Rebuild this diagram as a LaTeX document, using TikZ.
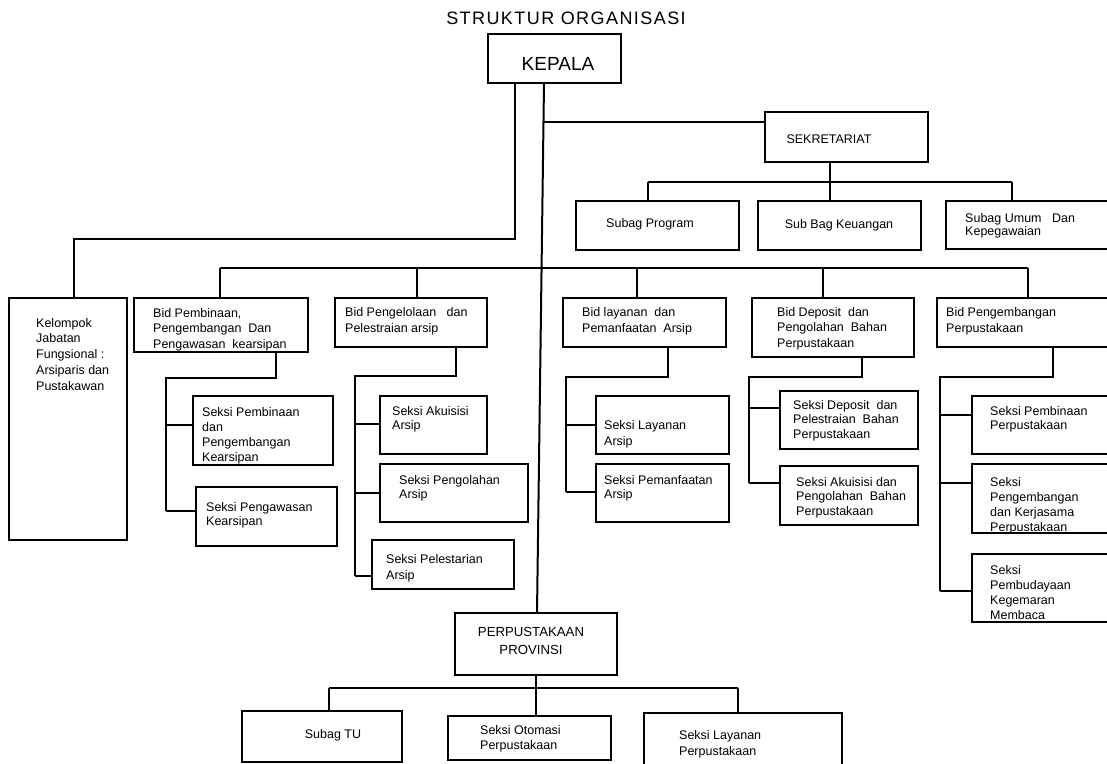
\documentclass[tikz,border=0pt]{standalone}
\usepackage{fontspec}
\setmainfont{Liberation Sans}
\begin{document}
\begin{tikzpicture}[x=1pt,y=-1pt,
 box/.style={draw, line width=2pt, rectangle, inner sep=0pt, outer sep=0pt, anchor=north west},
 txt/.style={inner sep=0pt, anchor=north west, align=left, font=\fontsize{12.5}{15.5}\selectfont},
 ctxt/.style={inner sep=0pt, anchor=center, align=center, font=\fontsize{12.5}{15.5}\selectfont},
 conn/.style={line width=2pt}]
\useasboundingbox (0,0) rectangle (1107,763);
\clip (0,0) rectangle (1107,763);

% title and head
\node[inner sep=0pt, font=\fontsize{18}{20}\selectfont\addfontfeature{LetterSpace=8}] (title) at (566,18) {STRUKTUR ORGANISASI};
\node[box, minimum width=133pt, minimum height=49pt] (kepala) at (488,34) {};
\node[inner sep=0pt, font=\fontsize{19}{21}\selectfont] (kepala-t) at (558,64) {KEPALA};

% sekretariat
\node[box, minimum width=163pt, minimum height=50pt] (sekretariat) at (765,112) {};
\node[ctxt] (sekretariat-t) at (829,139) {SEKRETARIAT};
\node[box, minimum width=163pt, minimum height=49pt] (subprog) at (576,201) {};
\node[ctxt] (subprog-t) at (650,224) {Subag Program};
\node[box, minimum width=163pt, minimum height=49pt] (keuangan) at (758,201) {};
\node[ctxt] (keuangan-t) at (839,225) {Sub Bag Keuangan};
\node[box, minimum width=170pt, minimum height=48pt] (umum) at (946,201) {};
\node[txt, font=\fontsize{12.5}{13.5}\selectfont] (umum-t) at (965,213) {Subag Umum\ \ \ Dan\\Kepegawaian};

% kelompok
\node[box, minimum width=118pt, minimum height=242pt] (kelompok) at (9,298) {};
\node[txt, font=\fontsize{12.5}{15.7}\selectfont] (kelompok-t) at (36,318) {Kelompok\\Jabatan\\Fungsional :\\Arsiparis dan\\Pustakawan};

% bidang
\node[box, minimum width=174pt, minimum height=54pt] (bid1) at (134,298) {};
\node[txt] (bid1-t) at (153,308) {Bid Pembinaan,\\Pengembangan\ \ Dan\\Pengawasan\ \ kearsipan};
\node[box, minimum width=152pt, minimum height=49pt] (bid2) at (335,298) {};
\node[txt, font=\fontsize{12.5}{16.5}\selectfont] (bid2-t) at (345,307) {Bid Pengelolaan\ \ \ dan\\Pelestraian arsip};
\node[box, minimum width=163pt, minimum height=49pt] (bid3) at (563,298) {};
\node[txt, font=\fontsize{12.5}{16.5}\selectfont] (bid3-t) at (582,307) {Bid layanan\ \ dan\\Pemanfaatan\ \ Arsip};
\node[box, minimum width=162pt, minimum height=59pt] (bid4) at (752,298) {};
\node[txt] (bid4-t) at (777,307) {Bid Deposit\ \ dan\\Pengolahan\ \ Bahan\\Perpustakaan};
\node[box, minimum width=180pt, minimum height=49pt] (bid5) at (937,298) {};
\node[txt, font=\fontsize{12.5}{16.5}\selectfont] (bid5-t) at (946,307) {Bid Pengembangan\\Perpustakaan};

% seksi of bid1
\node[box, minimum width=140pt, minimum height=69pt] (s11) at (193,396) {};
\node[txt, font=\fontsize{12.5}{15}\selectfont] (s11-t) at (202,407) {Seksi Pembinaan\\dan\\Pengembangan\\Kearsipan};
\node[box, minimum width=141pt, minimum height=59pt] (s12) at (196,487) {};
\node[txt, font=\fontsize{12.5}{14.5}\selectfont] (s12-t) at (206,502) {Seksi Pengawasan\\Kearsipan};

% seksi of bid2
\node[box, minimum width=107pt, minimum height=58pt] (s21) at (380,396) {};
\node[txt, font=\fontsize{12.5}{14.5}\selectfont] (s21-t) at (392,406) {Seksi Akuisisi\\Arsip};
\node[box, minimum width=148pt, minimum height=58pt] (s22) at (380,464) {};
\node[txt, font=\fontsize{12.5}{14}\selectfont] (s22-t) at (399,475) {Seksi Pengolahan\\Arsip};
\node[box, minimum width=142pt, minimum height=49pt] (s23) at (372,540) {};
\node[txt, font=\fontsize{12.5}{16}\selectfont] (s23-t) at (386,554) {Seksi Pelestarian\\Arsip};

% seksi of bid3
\node[box, minimum width=133pt, minimum height=58pt] (s31) at (596,396) {};
\node[txt, font=\fontsize{12.5}{16}\selectfont] (s31-t) at (604,420) {Seksi Layanan\\Arsip};
\node[box, minimum width=133pt, minimum height=58pt] (s32) at (596,464) {};
\node[txt, font=\fontsize{12.5}{14.5}\selectfont] (s32-t) at (604,475) {Seksi Pemanfaatan\\Arsip};

% seksi of bid4
\node[box, minimum width=138pt, minimum height=58pt] (s41) at (780,391) {};
\node[txt, font=\fontsize{12.5}{14.7}\selectfont] (s41-t) at (793,400) {Seksi Deposit\ \ dan\\Pelestraian\ \ Bahan\\Perpustakaan};
\node[box, minimum width=138pt, minimum height=59pt] (s42) at (780,466) {};
\node[txt, font=\fontsize{12.5}{14.7}\selectfont] (s42-t) at (796,477) {Seksi Akuisisi dan\\Pengolahan\ \ Bahan\\Perpustakaan};

% seksi of bid5
\node[box, minimum width=150pt, minimum height=58pt] (s51) at (972,396) {};
\node[txt, font=\fontsize{12.5}{14.5}\selectfont] (s51-t) at (990,406) {Seksi Pembinaan\\Perpustakaan};
\node[box, minimum width=150pt, minimum height=69pt] (s52) at (972,464) {};
\node[txt, font=\fontsize{12.5}{15}\selectfont] (s52-t) at (990,477) {Seksi\\Pengembangan\\dan Kerjasama\\Perpustakaan};
\node[box, minimum width=150pt, minimum height=68pt] (s53) at (972,554) {};
\node[txt, font=\fontsize{12.5}{15}\selectfont] (s53-t) at (990,565) {Seksi\\Pembudayaan\\Kegemaran\\Membaca};

% perpustakaan provinsi
\node[box, minimum width=162pt, minimum height=62pt] (perpus) at (455,613) {};
\node[ctxt, font=\fontsize{13.2}{18}\selectfont] (perpus-t) at (531,641) {PERPUSTAKAAN\\PROVINSI};
\node[box, minimum width=160pt, minimum height=51pt] (subtu) at (242,711) {};
\node[ctxt] (subtu-t) at (333,735) {Subag TU};
\node[box, minimum width=163pt, minimum height=44pt] (otomasi) at (448,716) {};
\node[txt, font=\fontsize{12.5}{15}\selectfont] (otomasi-t) at (480,725) {Seksi Otomasi\\Perpustakaan};
\node[box, minimum width=198pt, minimum height=52pt] (layananp) at (644,713) {};
\node[txt, font=\fontsize{12.5}{16}\selectfont] (layananp-t) at (679,730) {Seksi Layanan\\Perpustakaan};

% ---------- connectors ----------
% kepala -> kelompok
\coordinate (k1) at (515,239);
\coordinate (k2) at (74,239);
\draw[conn] (k1 |- kepala.south) -- (k1) -- (k2) -- (k2 |- kelompok.north);
% kepala -> perpustakaan provinsi (long line)
\coordinate (kv) at (544,0);
\coordinate (pv) at (537,0);
\draw[conn] (kv |- kepala.south) -- (pv |- perpus.north);
% branch to sekretariat
\coordinate (ks) at (543.5,122);
\draw[conn] (ks) -- (ks -| sekretariat.west);
% sekretariat children
\coordinate (sa) at (830,182);
\coordinate (sl) at (648,182);
\coordinate (sr) at (1012,182);
\draw[conn] (sa |- sekretariat.south) -- (sa);
\draw[conn] (sl) -- (sr);
\draw[conn] (sl) -- (sl |- subprog.north);
\draw[conn] (sa) -- (sa |- keuangan.north);
\draw[conn] (sr) -- (sr |- umum.north);
% bus to bidang
\coordinate (b1) at (220,268);
\coordinate (b2) at (417,268);
\coordinate (b3) at (637,268);
\coordinate (b4) at (823,268);
\coordinate (b5) at (1028,268);
\draw[conn] (b1) -- (b5);
\draw[conn] (b1) -- (b1 |- bid1.north);
\draw[conn] (b2) -- (b2 |- bid2.north);
\draw[conn] (b3) -- (b3 |- bid3.north);
\draw[conn] (b4) -- (b4 |- bid4.north);
\draw[conn] (b5) -- (b5 |- bid5.north);
% bid1 children
\coordinate (c1a) at (276,378);
\coordinate (c1b) at (166,378);
\coordinate (c1c) at (166,425);
\coordinate (c1d) at (166,511);
\draw[conn] (c1a |- bid1.south) -- (c1a) -- (c1b) -- (c1d);
\draw[conn] (c1c) -- (c1c -| s11.west);
\draw[conn] (c1d) -- (c1d -| s12.west);
% bid2 children
\coordinate (c2a) at (456,376);
\coordinate (c2b) at (355,376);
\coordinate (c2c) at (355,424);
\coordinate (c2d) at (355,493);
\coordinate (c2e) at (355,576);
\draw[conn] (c2a |- bid2.south) -- (c2a) -- (c2b) -- (c2e);
\draw[conn] (c2c) -- (c2c -| s21.west);
\draw[conn] (c2d) -- (c2d -| s22.west);
\draw[conn] (c2e) -- (c2e -| s23.west);
% bid3 children
\coordinate (c3a) at (668,377);
\coordinate (c3b) at (566,377);
\coordinate (c3c) at (566,425);
\coordinate (c3d) at (566,492);
\draw[conn] (c3a |- bid3.south) -- (c3a) -- (c3b) -- (c3d);
\draw[conn] (c3c) -- (c3c -| s31.west);
\draw[conn] (c3d) -- (c3d -| s32.west);
% bid4 children
\coordinate (c4a) at (862,377);
\coordinate (c4b) at (749,377);
\coordinate (c4c) at (749,408);
\coordinate (c4d) at (749,483);
\draw[conn] (c4a |- bid4.south) -- (c4a) -- (c4b) -- (c4d);
\draw[conn] (c4c) -- (c4c -| s41.west);
\draw[conn] (c4d) -- (c4d -| s42.west);
% bid5 children
\coordinate (c5a) at (1053,377);
\coordinate (c5b) at (940,377);
\coordinate (c5c) at (940,415);
\coordinate (c5d) at (940,483);
\coordinate (c5e) at (940,591);
\draw[conn] (c5a |- bid5.south) -- (c5a) -- (c5b) -- (c5e);
\draw[conn] (c5c) -- (c5c -| s51.west);
\draw[conn] (c5d) -- (c5d -| s52.west);
\draw[conn] (c5e) -- (c5e -| s53.west);
% perpustakaan children
\coordinate (pa) at (536,688);
\coordinate (pl) at (329,688);
\coordinate (pr) at (738,688);
\draw[conn] (pa |- perpus.south) -- (pa) -- (pa |- otomasi.north);
\draw[conn] (pl) -- (pr);
\draw[conn] (pl) -- (pl |- subtu.north);
\draw[conn] (pr) -- (pr |- layananp.north);
\end{tikzpicture}
\end{document}
